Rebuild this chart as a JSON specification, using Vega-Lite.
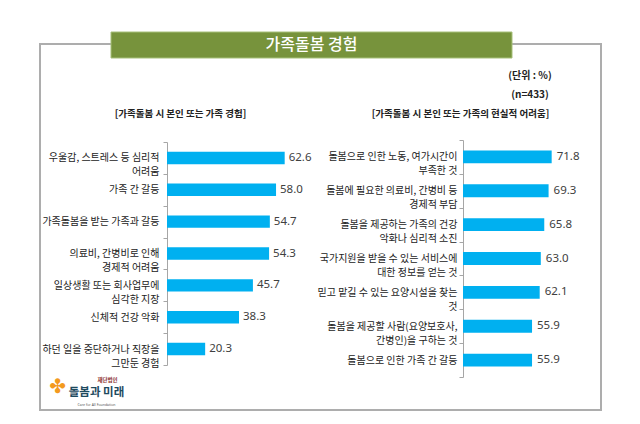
{
  "$schema": "https://vega.github.io/schema/vega-lite/v6.json",
  "width": 561,
  "height": 366,
  "autosize": {"type": "none"},
  "padding": {"left": 40, "top": 44, "right": 39, "bottom": 14},
  "background": "white",
  "view": {"stroke": "#ADADAD", "strokeWidth": 2, "fill": null},
  "config": {
    "view": {"stroke": "#ADADAD", "strokeWidth": 2},
    "font": "Noto Sans CJK KR"
  },
  "datasets": {
    "left": [
      {"item": "우울감, 스트레스 등 심리적\n어려움", "value": 62.6},
      {"item": "가족 간 갈등", "value": 58.0},
      {"item": "가족돌봄을 받는 가족과 갈등", "value": 54.7},
      {"item": "의료비, 간병비로 인해\n경제적 어려움", "value": 54.3},
      {"item": "일상생활 또는 회사업무에\n심각한 지장", "value": 45.7},
      {"item": "신체적 건강 악화", "value": 38.3},
      {"item": "하던 일을 중단하거나 직장을\n그만둔  경험", "value": 20.3}
    ],
    "right": [
      {"item": "돌봄으로 인한 노동, 여가시간이\n부족한 것", "value": 71.8},
      {"item": "돌봄에 필요한 의료비, 간병비 등\n경제적 부담", "value": 69.3},
      {"item": "돌봄을 제공하는 가족의 건강\n악화나 심리적 소진", "value": 65.8},
      {"item": "국가지원을 받을 수 있는 서비스에\n대한 정보를 얻는 것", "value": 63.0},
      {"item": "믿고 맡길 수 있는 요양시설을 찾는\n것", "value": 62.1},
      {"item": "돌봄을 제공할 사람(요양보호사,\n간병인)을 구하는 것", "value": 55.9},
      {"item": "돌봄으로 인한 가족 간 갈등", "value": 55.9}
    ]
  },
  "layer": [
    {
      "data": {"values": [{"banner": "가족돌봄 경험"}]},
      "layer": [
        {
          "mark": {"type": "rect", "color": "#77933C", "stroke": "#A7C07A", "strokeWidth": 1},
          "encoding": {
            "x": {"field": "banner", "type": "nominal", "scale": {"range": [71, 472], "paddingInner": 0, "paddingOuter": 0}, "axis": null},
            "y": {"field": "banner", "type": "nominal", "scale": {"range": [-12, 14], "paddingInner": 0, "paddingOuter": 0}, "axis": null}
          }
        },
        {
          "mark": {"type": "text", "color": "white", "fontSize": 16, "fontWeight": 500, "baseline": "middle"},
          "encoding": {
            "x": {"field": "banner", "type": "nominal"},
            "y": {"field": "banner", "type": "nominal"},
            "text": {"field": "banner"}
          }
        }
      ]
    },
    {
      "data": {"values": [{"t": "(단위 : %)"}, {"t": "(n=433)"}]},
      "mark": {"type": "text", "fontSize": 10, "fontWeight": "bold", "color": "#222222", "dx": 209.5, "baseline": "middle"},
      "encoding": {
        "y": {"field": "t", "type": "nominal", "sort": null, "scale": {"range": [22, 60], "paddingInner": 0, "paddingOuter": 0}, "axis": null},
        "text": {"field": "t"}
      }
    },
    {
      "data": {"values": [{"t": "✤"}]},
      "mark": {"type": "text", "fontSize": 20, "color": "#F39A1E", "font": "DejaVu Sans", "dx": -263, "dy": 160, "baseline": "middle"},
      "encoding": {"text": {"field": "t"}}
    },
    {
      "data": {"values": [{"t": "돌봄과 미래"}]},
      "mark": {"type": "text", "fontSize": 11.5, "fontWeight": "bold", "color": "#1E4A5E", "dx": -224, "dy": 166, "baseline": "middle"},
      "encoding": {"text": {"field": "t"}}
    },
    {
      "data": {"values": [{"t": "재단법인"}]},
      "mark": {"type": "text", "fontSize": 5.5, "fontWeight": "bold", "color": "#8B2E2E", "dx": -213, "dy": 153, "baseline": "middle"},
      "encoding": {"text": {"field": "t"}}
    },
    {
      "data": {"values": [{"t": "Care for All Foundation"}]},
      "mark": {"type": "text", "fontSize": 3.5, "color": "#555555", "font": "Noto Sans", "dx": -224, "dy": 178, "baseline": "middle"},
      "encoding": {"text": {"field": "t"}}
    },
    {
      "data": {"name": "left"},
      "layer": [
        {
          "mark": {"type": "bar", "color": "#00B0F0", "height": {"band": 0.39}},
          "encoding": {
            "y": {
              "field": "item", "type": "nominal", "sort": null,
              "scale": {"range": [98, 321], "paddingInner": 0, "paddingOuter": 0},
              "axis": {
                "orient": "left", "offset": -127, "grid": false,
                "tickBand": "extent", "tickSize": 4, "tickColor": "#A6A6A6", "domainColor": "#A6A6A6",
                "labelExpr": "split(datum.label, '\\n')", "labelFontSize": 10, "labelColor": "#222222",
                "labelPadding": 4, "labelLimit": 400, "labelLineHeight": 14, "labelOverlap": false,
                "title": "[가족돌봄 시 본인 또는 가족 경험]", "titleAngle": 0, "titleX": 13, "titleY": 69,
                "titleAlign": "center", "titleBaseline": "middle", "titleFontSize": 9.5, "titleFontWeight": "bold", "titleColor": "#222222"
              }
            },
            "x": {"field": "value", "type": "quantitative", "scale": {"domain": [0, 100], "range": [127, 315]}, "axis": null}
          }
        },
        {
          "mark": {"type": "text", "align": "left", "baseline": "middle", "dx": 4, "fontSize": 11.5, "color": "#404040", "font": "Noto Sans"},
          "encoding": {
            "y": {"field": "item", "type": "nominal", "sort": null},
            "x": {"field": "value", "type": "quantitative"},
            "text": {"field": "value", "type": "quantitative", "format": ".1f"}
          }
        }
      ]
    },
    {
      "data": {"name": "right"},
      "layer": [
        {
          "mark": {"type": "bar", "color": "#00B0F0", "height": {"band": 0.38}},
          "encoding": {
            "y": {
              "field": "item", "type": "nominal", "sort": null,
              "scale": {"range": [96, 333], "paddingInner": 0, "paddingOuter": 0},
              "axis": {
                "orient": "left", "offset": -423, "grid": false,
                "tickBand": "extent", "tickSize": 4, "tickColor": "#A6A6A6", "domainColor": "#A6A6A6",
                "labelExpr": "split(datum.label, '\\n')", "labelFontSize": 10, "labelColor": "#222222",
                "labelPadding": 2, "labelLimit": 400, "labelLineHeight": 14, "labelOverlap": false,
                "title": "[가족돌봄 시 본인 또는 가족의 현실적 어려움]", "titleAngle": 0, "titleX": -3, "titleY": 69,
                "titleAlign": "center", "titleBaseline": "middle", "titleFontSize": 9.5, "titleFontWeight": "bold", "titleColor": "#222222"
              }
            },
            "x": {"field": "value", "type": "quantitative", "scale": {"domain": [0, 100], "range": [423, 546.5]}, "axis": null}
          }
        },
        {
          "mark": {"type": "text", "align": "left", "baseline": "middle", "dx": 5, "fontSize": 11.5, "color": "#404040", "font": "Noto Sans"},
          "encoding": {
            "y": {"field": "item", "type": "nominal", "sort": null},
            "x": {"field": "value", "type": "quantitative"},
            "text": {"field": "value", "type": "quantitative", "format": ".1f"}
          }
        }
      ]
    }
  ],
  "resolve": {"scale": {"x": "independent", "y": "independent"}}
}
